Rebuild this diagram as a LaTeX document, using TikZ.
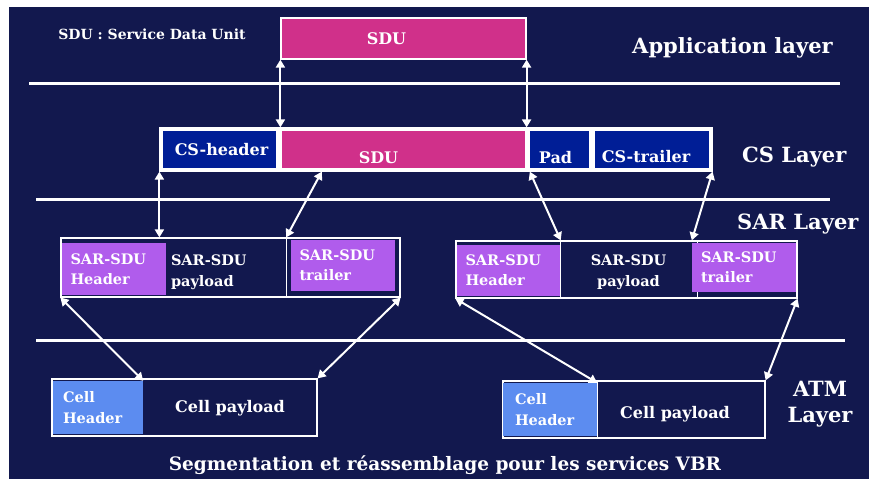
\documentclass[tikz,border=0pt]{standalone}
\usepackage{fontspec}
\setmainfont{DejaVu Serif}
\usetikzlibrary{arrows.meta, calc}
\definecolor{SlideNavy}{RGB}{18,24,78}
\definecolor{SduMagenta}{RGB}{208,48,138}
\definecolor{CsBlue}{RGB}{0,30,150}
\definecolor{SarPurple}{RGB}{176,92,236}
\definecolor{CellBlue}{RGB}{92,140,240}

\begin{document}
\begin{tikzpicture}[x=1pt, y=-1pt, text=white]
    \tikzset{
        pduframe/.style={rectangle, draw=white, line width=1.2pt, inner sep=0pt},
        divider/.style={white, line width=1.2pt},
        csfield/.style={rectangle, inner sep=0pt, minimum height=37pt},
        fieldtext/.style={inner sep=0pt, font=\bfseries\fontsize{16}{18}\selectfont},
        sarfield/.style={rectangle, fill=SarPurple, text width=86pt, inner xsep=9pt,
            inner ysep=0pt, minimum height=51pt, align=left,
            font=\bfseries\fontsize{14.5}{20}\selectfont},
        cellfield/.style={rectangle, fill=CellBlue, text width=70pt, inner xsep=10pt,
            inner ysep=0pt, minimum height=53pt, align=left,
            font=\bfseries\fontsize{14.5}{21}\selectfont},
        payloadtext/.style={inner sep=0pt, font=\bfseries\fontsize{14.5}{21}\selectfont},
        layerline/.style={white, line width=3pt},
        layername/.style={anchor=base west, inner sep=0pt,
            font=\bfseries\fontsize{21}{26}\selectfont},
        pdulink/.style={white, line width=2pt,
            {Triangle[length=8pt,width=9pt]}-{Triangle[length=8pt,width=9pt]}}
    }
    \useasboundingbox (0,0) rectangle (869,479);
    \fill[SlideNavy] (9,7) rectangle (869,479);
    % layer separators
    \draw[layerline] (29,83) -- (840,83);
    \draw[layerline] (36,199) -- (830,199);
    \draw[layerline] (36,340) -- (845,340);

    \node[inner sep=0pt, font=\bfseries\fontsize{14}{16}\selectfont] (legend) at (152,34)
        {SDU : Service Data Unit};
    \node[layername] (applayer) at (632,53) {Application layer};
    \node[layername] (cslayer) at (742,162) {CS Layer};
    \node[layername] (sarlayer) at (737,229) {SAR Layer};
    \node[layername, anchor=center, align=center] (atmlayer) at (820,404) {ATM\\Layer};

    % application layer
    \node[pduframe, fill=SduMagenta, minimum width=245pt, minimum height=41pt,
        label={[fieldtext, xshift=-17pt]center:SDU}] (appsdu) at (403.5,38.5) {};

    % CS-PDU
    \node[pduframe, fill=white, minimum width=552pt, minimum height=43pt] (csbox) at (436,149.5) {};
    \node[csfield, fill=CsBlue, minimum width=113pt,
        label={[fieldtext, xshift=2pt]center:CS-header}] (cshead) at (219.5,149.5) {};
    \node[csfield, fill=SduMagenta, minimum width=243pt,
        label={[fieldtext, xshift=-25pt, yshift=-8pt]center:SDU}] (cssdu) at (403.5,149.5) {};
    \node[csfield, fill=CsBlue, minimum width=59pt,
        label={[fieldtext, xshift=-4pt, yshift=-8pt]center:Pad}] (pad) at (559.5,149.5) {};
    \node[csfield, fill=CsBlue, minimum width=114pt,
        label={[fieldtext, xshift=-6pt, yshift=-7pt]center:CS-trailer}] (cstrail) at (652,149.5) {};

    % SAR-PDUs
    \node[pduframe, minimum width=339pt, minimum height=59pt] (sarL) at (230.5,267.5) {};
    \node[sarfield, minimum height=52pt] (sarLhead) at (113.5,269) {SAR-SDU\\Header};
    \node[payloadtext, text width=110pt, inner xsep=5pt, align=left] (sarLpay) at (226,272.5)
        {SAR-SDU\\payload};
    \draw[divider] (sarLpay.east |- sarL.north) -- (sarLpay.east |- sarL.south);
    \node[sarfield] (sarLtrail) at (342.5,265.5) {SAR-SDU\\trailer};

    \node[pduframe, minimum width=341pt, minimum height=57pt] (sarR) at (626.5,269.5) {};
    \node[sarfield] (sarRhead) at (508.5,270.5) {SAR-SDU\\Header};
    \node[payloadtext, minimum width=137pt, align=center] (sarRpay) at (628.5,272.5)
        {SAR-SDU\\payload};
    \draw[divider] (sarRhead.east |- sarR.north) -- (sarRhead.east |- sarR.south);
    \draw[divider] (sarRpay.east |- sarR.north) -- (sarRpay.east |- sarR.south);
    \node[sarfield, minimum height=49pt] (sarRtrail) at (744,267.5) {SAR-SDU\\trailer};

    % ATM cells
    \node[pduframe, minimum width=265pt, minimum height=57pt] (atmL) at (184.5,407.5) {};
    \node[cellfield] (atmLhead) at (98,407.5) {Cell\\Header};
    \node[payloadtext, font=\bfseries\fontsize{16}{18}\selectfont] (atmLpay) at (230,408) {Cell payload};

    \node[pduframe, minimum width=262pt, minimum height=57pt] (atmR) at (634,409.5) {};
    \node[cellfield, minimum width=94pt] (atmRhead) at (550,409.5) {Cell\\Header};
    \draw[divider] (atmRhead.east |- atmR.north) -- (atmRhead.east |- atmR.south);
    \node[payloadtext, font=\bfseries\fontsize{16}{18}\selectfont] (atmRpay) at (675,414) {Cell payload};

    % links between layers
    \draw[pdulink] (appsdu.south west) -- (appsdu.south west |- csbox.north);
    \draw[pdulink] (appsdu.south east) -- (appsdu.south east |- csbox.north);
    \draw[pdulink] (csbox.south west) -- (csbox.south west |- sarL.north);
    \draw[pdulink] ($(cssdu.west |- csbox.south)+(40,0)$) -- (sarLpay.east |- sarL.north);
    \draw[pdulink] (pad.west |- csbox.south) -- (sarRhead.east |- sarR.north);
    \draw[pdulink] (csbox.south east) -- (sarRtrail.west |- sarR.north);
    \draw[pdulink] (sarL.south west) -- (atmLhead.north east);
    \draw[pdulink] (sarL.south east) -- (atmL.north east);
    \draw[pdulink] (sarR.south west) -- (atmRhead.north east);
    \draw[pdulink] (sarR.south east) -- (atmR.north east);

    \node[inner sep=0pt, font=\bfseries\fontsize{18.5}{20}\selectfont] (caption) at (445,465)
        {Segmentation et réassemblage pour les services VBR};
\end{tikzpicture}
\end{document}
